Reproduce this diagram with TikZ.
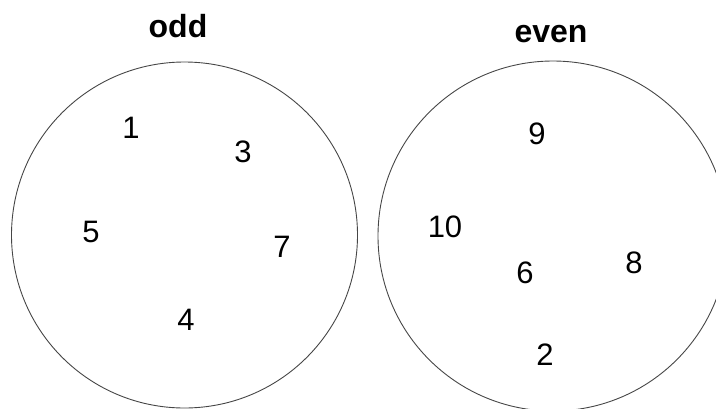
\documentclass[tikz,border=0pt]{standalone}
\usepackage{fontspec}
\setmainfont{Liberation Sans}
\usepackage{xcolor}
\usepackage{tikz}
\usetikzlibrary{positioning}
\definecolor{setline}{RGB}{70,70,70}

\begin{document}
\begin{tikzpicture}[
  x=1pt, y=-1pt,
  every node/.style={inner sep=0pt},
  setcircle/.style={draw=setline, line width=0.9pt},
  settitle/.style={anchor=base, font=\fontsize{32}{36}\selectfont\bfseries},
  elem/.style={font=\fontsize{31}{36}\selectfont}
]
  \useasboundingbox (0,0) rectangle (716,408);
  % the two sets
  \node[setcircle, circle, minimum size=346pt] (oddset) at (184.5,235) {};
  \node[setcircle, circle, minimum size=350pt] (evenset) at (553,236) {};
  \node[settitle] (oddtitle) at (178,37) {odd};
  \node[settitle] (eventitle) at (551,42) {even};

  % odd members
  \node[elem] (n1) at (131,128) {1};
  \node[elem] (n3) at (243,152) {3};
  \node[elem] (n5) at (91,232) {5};
  \node[elem] (n7) at (282,247) {7};
  \node[elem] (n4) at (186,320) {4};

  % even members
  \node[elem] (n9) at (537,134) {9};
  \node[elem] (n10) at (445,227) {10};
  \node[elem] (n6) at (525,273) {6};
  \node[elem] (n8) at (634,263) {8};
  \node[elem] (n2) at (545,355) {2};
\end{tikzpicture}
\end{document}
